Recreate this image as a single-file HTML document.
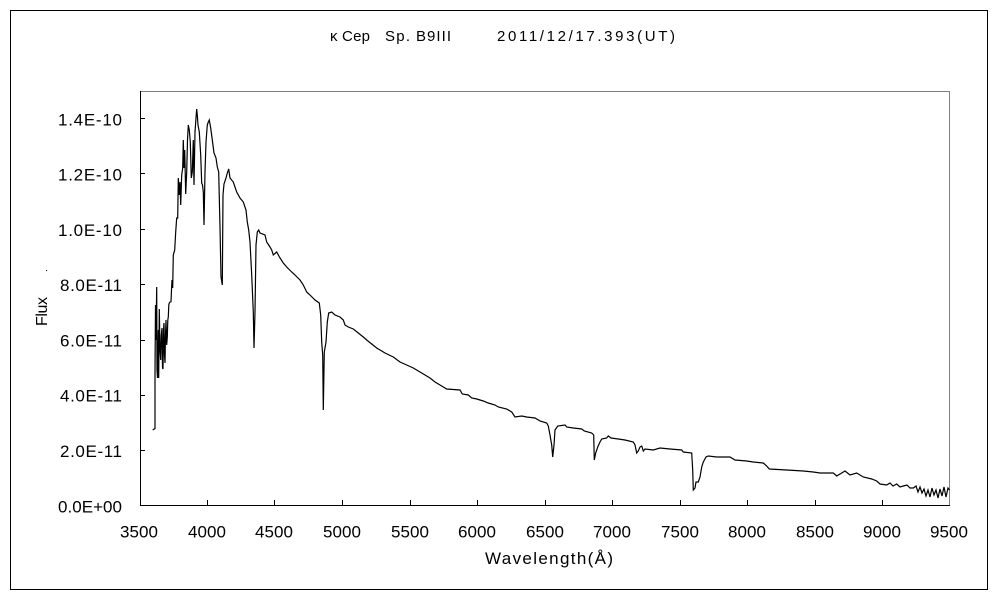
<!DOCTYPE html>
<html>
<head>
<meta charset="utf-8">
<style>
html,body{margin:0;padding:0;background:#fff;}
svg{display:block;}
text{font-family:"Liberation Sans","Noto Sans CJK JP",sans-serif;fill:#000;}
</style>
</head>
<body>
<svg width="1000" height="600" viewBox="0 0 1000 600" xmlns="http://www.w3.org/2000/svg">
<rect x="0" y="0" width="1000" height="600" fill="#fff"/>
<rect x="10.5" y="10.5" width="977" height="579" fill="none" stroke="#000" stroke-width="1"/>

<!-- title -->
<text x="330" y="41" font-size="15" textLength="7">κ</text>
<text x="342" y="41" font-size="15" textLength="28">Cep</text>
<text x="385" y="41" font-size="15" textLength="25">Sp.</text>
<text x="416" y="41" font-size="15" textLength="35">B9III</text>
<text x="497" y="41" font-size="15" textLength="178">2011/12/17.393(UT)</text>

<!-- plot frame -->
<line x1="140" y1="91.5" x2="949.5" y2="91.5" stroke="#808080" stroke-width="1"/>
<line x1="949.5" y1="91" x2="949.5" y2="505" stroke="#808080" stroke-width="1"/>
<line x1="140.5" y1="91" x2="140.5" y2="506" stroke="#000" stroke-width="1"/>
<line x1="140" y1="505.5" x2="950" y2="505.5" stroke="#000" stroke-width="1"/>

<!-- y ticks -->
<g stroke="#000" stroke-width="1">
<line x1="140" y1="450.5" x2="145" y2="450.5"/>
<line x1="140" y1="395.5" x2="145" y2="395.5"/>
<line x1="140" y1="340.5" x2="145" y2="340.5"/>
<line x1="140" y1="284.5" x2="145" y2="284.5"/>
<line x1="140" y1="229.5" x2="145" y2="229.5"/>
<line x1="140" y1="173.5" x2="145" y2="173.5"/>
<line x1="140" y1="118.5" x2="145" y2="118.5"/>
</g>
<!-- x ticks -->
<g stroke="#000" stroke-width="1">
<line x1="207.5" y1="500" x2="207.5" y2="505"/>
<line x1="274.5" y1="500" x2="274.5" y2="505"/>
<line x1="342.5" y1="500" x2="342.5" y2="505"/>
<line x1="410.5" y1="500" x2="410.5" y2="505"/>
<line x1="477.5" y1="500" x2="477.5" y2="505"/>
<line x1="545.5" y1="500" x2="545.5" y2="505"/>
<line x1="612.5" y1="500" x2="612.5" y2="505"/>
<line x1="680.5" y1="500" x2="680.5" y2="505"/>
<line x1="747.5" y1="500" x2="747.5" y2="505"/>
<line x1="815.5" y1="500" x2="815.5" y2="505"/>
<line x1="882.5" y1="500" x2="882.5" y2="505"/>
</g>

<!-- y labels -->
<g font-size="17" text-anchor="end">
<text x="122" y="125.5" textLength="64">1.4E-10</text>
<text x="122" y="180.5" textLength="64">1.2E-10</text>
<text x="122" y="236" textLength="64">1.0E-10</text>
<text x="122" y="291" textLength="62">8.0E-11</text>
<text x="122" y="346.5" textLength="62">6.0E-11</text>
<text x="122" y="401.5" textLength="62">4.0E-11</text>
<text x="122" y="457" textLength="62">2.0E-11</text>
<text x="122" y="512.5" textLength="64">0.0E+00</text>
</g>

<!-- x labels -->
<g font-size="17" text-anchor="middle">
<text x="139" y="537.5" textLength="38">3500</text>
<text x="207" y="537.5" textLength="38">4000</text>
<text x="274" y="537.5" textLength="38">4500</text>
<text x="342" y="537.5" textLength="38">5000</text>
<text x="410" y="537.5" textLength="38">5500</text>
<text x="477" y="537.5" textLength="38">6000</text>
<text x="545" y="537.5" textLength="38">6500</text>
<text x="612" y="537.5" textLength="38">7000</text>
<text x="680" y="537.5" textLength="38">7500</text>
<text x="747" y="537.5" textLength="38">8000</text>
<text x="815" y="537.5" textLength="38">8500</text>
<text x="882" y="537.5" textLength="38">9000</text>
<text x="949" y="537.5" textLength="38">9500</text>
</g>

<!-- axis titles -->
<text x="485" y="564" font-size="17" textLength="128">Wavelength(Å)</text>
<text transform="translate(47,326) rotate(-90)" font-size="16" textLength="29">Flux</text>
<rect x="46" y="270" width="1" height="1" fill="#000"/>

<!-- spectrum -->
<polyline fill="none" stroke="#000" stroke-width="1.2" stroke-linejoin="miter" points="
152.7,430 155,428.5 155,373 155.5,305 156,340 156.7,287 157,370 157.5,378 158.3,330 158.7,378 159.3,309 160,350 160.7,360 161.3,335 162,328 162.5,368 163,369 163.5,330 164,323 164.5,355 165,363 165.5,335 166,320 166.7,345 167.3,337 167.8,320 168.3,317 168.8,305 169.3,303 170,302 171,301.7 171.5,290 172,280 172.7,288 173,270 173.3,255 174.7,250 175.7,232 176.7,218 177.7,218 178.3,178 179.3,195 180,182 180.7,205 181.7,175 182.7,168 183.3,140 184,168 184.7,150 185.7,194 186.7,172 187.5,140 188.3,125 189.3,130 190.3,142 191.3,178 192.3,172 193.3,140 194,185 195,132 196,118 196.7,109 197.3,115 198,125 199.3,132 200.7,155 201.7,183 202.5,185 203.3,192 204,225 205,172 206,142 207.3,125 208.3,122 209.3,120 210.7,128 212.7,143 214,153 216,158 217.3,167 218.7,172 220,227 221,277 222.3,285 223,195 224,184 226,178 227.3,173 228.7,169 230,178 233.3,182 236.7,192 240,198 243.3,202 246,210 247.3,222 248.7,230 250,242 251.7,275 253.3,312 254,348 255,312 256,245 257.3,232 258.7,230 260,233 265,235 266.7,242 270,247 271.7,250 273.3,255 276.7,252 280,258 283.3,263 286.7,267 291.7,272 295,275 300,280 303.3,285 306.7,292 310,295 315,300 319.3,303 320.7,315 321.7,342 322.7,355 323.3,410 324.3,352 326,342 327.3,322 328.7,313 331.7,312 335,315 340,317 343.3,320 345,325 348.3,327 353.3,329 358.3,333 363.3,337 366.7,340 371.7,344 376.7,348 385,353 393.3,357 400,362 406.7,365 413.3,368 420,372 425,375 430,378 435,382 440,385 446.7,389 460,390 462.3,394 468.3,395 471.7,398 476.7,399 483.3,401 488.3,403 495,405 498.3,407 506.7,409 511.7,412 515,417 521.7,416 526.7,417 535,418 540,421 546.7,423 548.3,426 550,435 551.7,445 552.7,457 554,445 555,430 557.7,426 565,425 566.7,427 573.3,428 581.7,429 584.3,431 591.7,433 593.7,435 594.3,460 595.7,453 597.7,447 600,442 601.7,439 606.7,438 608.3,436 611,438 618.3,439 625,440 633.3,442 635,445 636.7,453 638.3,451 640,447 641.7,446 643.3,451 645,449 653.3,450 660,448 670,449 681.7,450 683.3,452 691.7,453 692.7,470 693.3,490 695,488 696,482 698.3,482 700,477 701.7,467 703.3,462 706,457 708.3,456 716.7,457 730,457 735,460 746.7,461 753.3,462 763.3,463 766.7,466 769.3,469 786.7,470 803.3,471 813.3,472 820,473 833.3,473 836.7,476 841.7,473 845,471 850,475 856.7,473 863.3,477 871.7,479 876.7,481 880,484 886.7,485 890,483 893,486 896.7,484 900,487 903.3,486 907,485 910,488 913.3,488 916,486 918,492 920,487 922,493 924,489 926,496 928,490 930,497 932,488 934,495 936,490 938,498 940,489 942,496 944,487 946,497 948,488 949.5,490"/>
</svg>
</body>
</html>
